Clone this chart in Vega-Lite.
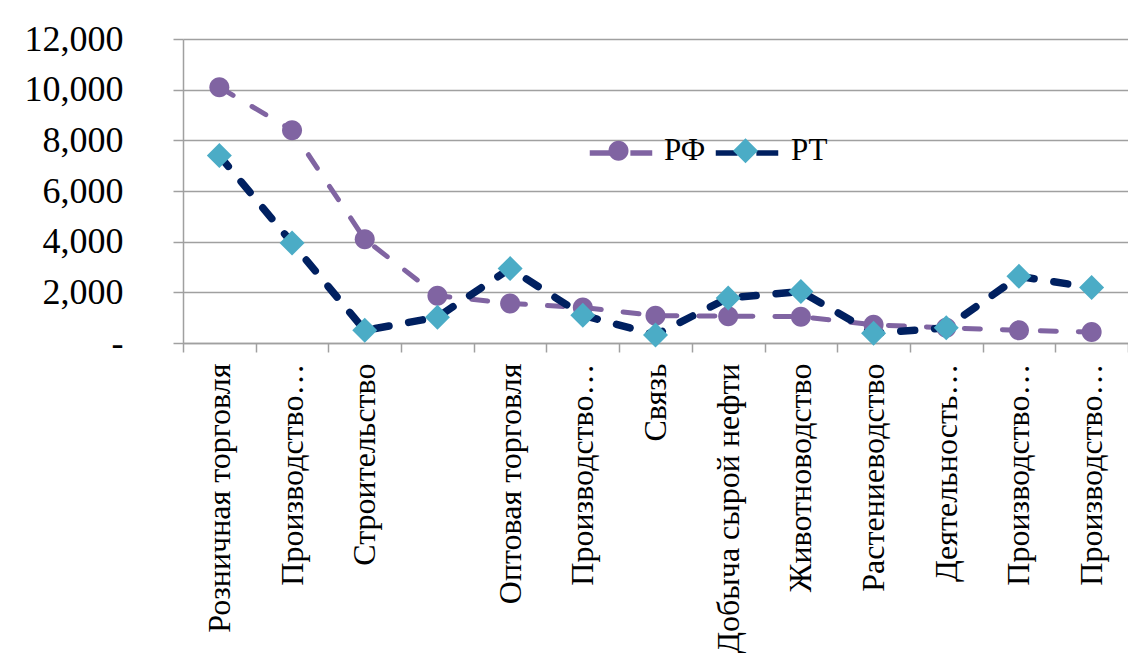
{
  "$schema": "https://vega.github.io/schema/vega-lite/v6.json",
  "autosize": "none",
  "width": 945,
  "height": 304,
  "padding": {"left": 183, "top": 39, "right": 0, "bottom": 310},
  "background": "white",
  "config": {"view": {"stroke": null}},
  "data": {
    "values": [
      {"sector": "Розничная торговля", "series": "РФ", "value": 10100},
      {"sector": "Производство…", "series": "РФ", "value": 8400},
      {"sector": "Строительство", "series": "РФ", "value": 4100},
      {"sector": " ", "series": "РФ", "value": 1870},
      {"sector": "Оптовая торговля", "series": "РФ", "value": 1560},
      {"sector": "Производство… ", "series": "РФ", "value": 1400},
      {"sector": "Связь", "series": "РФ", "value": 1080},
      {"sector": "Добыча сырой нефти", "series": "РФ", "value": 1060},
      {"sector": "Животноводство", "series": "РФ", "value": 1040},
      {"sector": "Растениеводство", "series": "РФ", "value": 720},
      {"sector": "Деятельность…", "series": "РФ", "value": 600},
      {"sector": "Производство…  ", "series": "РФ", "value": 500},
      {"sector": "Производство…   ", "series": "РФ", "value": 430},
      {"sector": "Розничная торговля", "series": "РТ", "value": 7400},
      {"sector": "Производство…", "series": "РТ", "value": 3950},
      {"sector": "Строительство", "series": "РТ", "value": 500},
      {"sector": " ", "series": "РТ", "value": 1020},
      {"sector": "Оптовая торговля", "series": "РТ", "value": 2940},
      {"sector": "Производство… ", "series": "РТ", "value": 1100},
      {"sector": "Связь", "series": "РТ", "value": 320},
      {"sector": "Добыча сырой нефти", "series": "РТ", "value": 1780},
      {"sector": "Животноводство", "series": "РТ", "value": 2030},
      {"sector": "Растениеводство", "series": "РТ", "value": 380},
      {"sector": "Деятельность…", "series": "РТ", "value": 600},
      {"sector": "Производство…  ", "series": "РТ", "value": 2630},
      {"sector": "Производство…   ", "series": "РТ", "value": 2190}
    ]
  },
  "encoding": {
    "x": {
      "field": "sector",
      "type": "nominal",
      "sort": null,
      "scale": {"type": "band", "paddingInner": 0, "paddingOuter": 0},
      "axis": {
        "title": null,
        "labelAngle": 270,
        "labelFont": "Liberation Serif, Times New Roman, DejaVu Serif, serif",
        "labelFontSize": 32,
        "labelColor": "black",
        "labelPadding": 11,
        "labelLimit": 1000,
        "labelOverlap": false,
        "tickBand": "extent",
        "tickSize": 9,
        "tickColor": "#A0A0A0",
        "tickWidth": 1.5,
        "domainColor": "#A0A0A0",
        "domainWidth": 1.5,
        "grid": false
      }
    },
    "y": {
      "field": "value",
      "type": "quantitative",
      "scale": {"domain": [0, 12000], "nice": false},
      "axis": {
        "title": null,
        "values": [0, 2000, 4000, 6000, 8000, 10000, 12000],
        "labelExpr": "datum.value === 0 ? '-\u00a0\u00a0\u00a0' : format(datum.value, ',')",
        "labelFont": "Liberation Serif, Times New Roman, DejaVu Serif, serif",
        "labelFontSize": 36,
        "labelColor": "black",
        "labelPadding": 50,
        "tickSize": 10,
        "tickColor": "#A0A0A0",
        "tickWidth": 1.5,
        "domainColor": "#A0A0A0",
        "domainWidth": 1.5,
        "grid": true,
        "gridColor": "#A0A0A0",
        "gridWidth": 1.5
      }
    }
  },
  "resolve": {
    "scale": {"color": "independent", "shape": "independent"},
    "legend": {"color": "independent", "shape": "independent"}
  },
  "layer": [
    {
      "mark": {"type": "line", "strokeCap": "round", "strokeJoin": "round"},
      "encoding": {
        "color": {
          "field": "series",
          "type": "nominal",
          "scale": {"domain": ["РФ", "РТ"], "range": ["#8064A2", "#002060"]},
          "legend": {
            "title": null,
            "orient": "none",
            "legendX": 404,
            "legendY": 80,
            "direction": "horizontal",
            "symbolType": "M-1,0H-0.3M0.3,0H1",
            "symbolSize": 3906,
            "symbolStrokeWidth": 5.5,
            "labelExpr": "''",
            "labelFont": "Liberation Serif, Times New Roman, DejaVu Serif, serif",
            "labelFontSize": 31,
            "labelOffset": 14,
            "columnPadding": 35
          }
        },
        "strokeDash": {
          "field": "series",
          "type": "nominal",
          "scale": {"domain": ["РФ", "РТ"], "range": [[16, 22], [14, 20]]},
          "legend": null
        },
        "strokeWidth": {
          "field": "series",
          "type": "nominal",
          "scale": {"domain": ["РФ", "РТ"], "range": [5, 7.5]},
          "legend": null
        }
      }
    },
    {
      "mark": {"type": "point", "filled": true, "size": 3906, "strokeWidth": 0, "opacity": 1},
      "encoding": {
        "color": {
          "field": "series",
          "type": "nominal",
          "scale": {"domain": ["РФ", "РТ"], "range": ["#8064A2", "#4BACC6"]},
          "legend": {
            "title": null,
            "orient": "none",
            "legendX": 404,
            "legendY": 80,
            "direction": "horizontal",
            "symbolSize": 3906,
            "symbolStrokeWidth": 0,
            "labelFont": "Liberation Serif, Times New Roman, DejaVu Serif, serif",
            "labelFontSize": 31,
            "labelColor": "black",
            "labelOffset": 14,
            "columnPadding": 8
          }
        },
        "shape": {
          "field": "series",
          "type": "nominal",
          "scale": {"domain": ["РФ", "РТ"], "range": [
            "M0.32,0C0.32,0.1767 0.1767,0.32 0,0.32C-0.1767,0.32 -0.32,0.1767 -0.32,0C-0.32,-0.1767 -0.1767,-0.32 0,-0.32C0.1767,-0.32 0.32,-0.1767 0.32,0Z",
            "M-0.4,0L0,-0.4L0.4,0L0,0.4Z"
          ]},
          "legend": {
            "title": null,
            "orient": "none",
            "legendX": 404,
            "legendY": 80,
            "direction": "horizontal",
            "symbolSize": 3906,
            "symbolStrokeWidth": 0,
            "labelFont": "Liberation Serif, Times New Roman, DejaVu Serif, serif",
            "labelFontSize": 31,
            "labelColor": "black",
            "labelOffset": 14,
            "columnPadding": 8
          }
        }
      }
    }
  ]
}
